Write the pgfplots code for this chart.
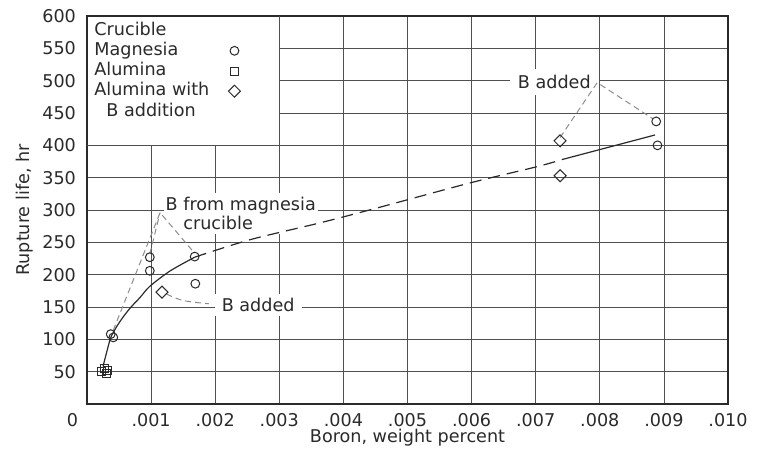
\documentclass[border=0pt]{standalone}
\usepackage{fontspec}
\setmainfont{DejaVu Sans}
\usepackage{pgfplots}
\usepackage{pgfplotstable}
\pgfplotsset{compat=1.18}
\usetikzlibrary{plotmarks}
\definecolor{gridc}{HTML}{505050}
\definecolor{leadc}{HTML}{8C8C8C}
\definecolor{inkc}{HTML}{2A2A2A}

\pgfplotstableread{
x y
0.00037 108
0.00041 103
0.00098 227
0.00098 206
0.00168 228
0.00169 186
0.00888 437
0.00890 400
}\magnesia
\pgfplotstableread{
x y
0.00022 50
0.00027 55
0.00032 52
0.00030 47
}\alumina
\pgfplotstableread{
x y
0.00117 173
0.00738 407
0.00738 353
}\boronadd
\pgfplotstableread{
x y
0.00025 58
0.00032 85
0.00038 105
0.00051 127
0.00067 148
0.00083 165
0.00098 182
0.00130 206
0.00168 227
}\curveA
\pgfplotstableread{
x y
0.00168 227
0.00254 254
0.00363 280
0.00452 303
0.00598 342
0.00702 367
0.00741 378
}\curveB
\pgfplotstableread{
x y
0.00741 378
0.00886 416
}\curveC

\begin{document}
\begin{tikzpicture}[font=\fontsize{8.8}{10}\selectfont]
\useasboundingbox (-43.5pt,-23pt) rectangle (335.5pt,202pt);
\begin{axis}[
  scale only axis, width=320.5pt, height=194pt,
  at={(0,0)}, anchor=south west,
  xmin=0, xmax=0.010, ymin=0, ymax=600,
  xtick={0,0.001,0.002,0.003,0.004,0.005,0.006,0.007,0.008,0.009,0.010},
  xticklabels={\makebox[0pt][r]{0\hspace{4.5pt}},.001,.002,.003,.004,.005,.006,.007,.008,.009,.010},
  ytick={50,100,150,200,250,300,350,400,450,500,550,600},
  scaled x ticks=false,
  /pgf/number format/assume math mode=true,
  major tick length=0pt,
  grid=major, grid style={gridc, line width=0.4pt},
  axis line style={inkc, line width=0.6pt},
  tick label style={font=\fontsize{8.8}{10}\selectfont, text=inkc},
  yticklabel style={xshift=-2pt},
  xticklabel style={yshift=-1pt},
  xlabel={Boron, weight percent}, ylabel={Rupture life, hr},
  label style={text=inkc, font=\fontsize{8.8}{10}\selectfont},
  xlabel style={at={(axis description cs:0.5,-0.0876)}, anchor=center},
  ylabel style={at={(axis description cs:-0.0967,0.5)}, anchor=center},
  legend style={at={(axis cs:0,600)}, anchor=north west, draw=none, fill=none,
    inner xsep=1.5pt, inner ysep=2.5pt, row sep=0.9pt,
    nodes={inner ysep=0.5pt, text height=6.4pt, text depth=1.8pt, text=inkc},
    /tikz/every odd column/.append style={column sep=2pt}},
  legend cell align=left, legend plot pos=right,
]
\addlegendimage{empty legend}\addlegendentry{Crucible}

\fill[white] ([xshift=0.35pt]axis cs:0,400) rectangle ([yshift=-0.35pt]axis cs:0.003,600);
\draw[gridc, line width=0.4pt] (axis cs:0,400) -- (axis cs:0.003,400) -- (axis cs:0.003,600);

\node[fill=white, inner xsep=4pt, inner ysep=3pt, text=inkc] at (axis cs:0.00729,498) {B added};
\node[fill=white, inner xsep=3.5pt, inner ysep=2pt, text=inkc] at (axis cs:0.00267,153) {B added};
\node[fill=white, anchor=west, align=left, inner xsep=1pt, inner ysep=2pt, text=inkc,
  font=\fontsize{8.8}{8.5}\selectfont] at (axis cs:0.00119,295) {B from magnesia\\\phantom{B }crucible};

\addplot[inkc, line width=0.6pt, smooth, forget plot] table {\curveA};
\addplot[inkc, line width=0.6pt, smooth, dash pattern=on 6pt off 3.5pt, forget plot] table {\curveB};
\addplot[inkc, line width=0.6pt, forget plot] table {\curveC};

\addplot[leadc, line width=0.5pt, dash pattern=on 3pt off 2pt, forget plot] coordinates {(0.00041,114) (0.00114,296) (0.00168,233)};
\addplot[leadc, line width=0.5pt, dash pattern=on 3pt off 2pt, forget plot] coordinates {(0.00098,232) (0.00114,296)};
\addplot[leadc, line width=0.5pt, dash pattern=on 3pt off 2pt, smooth, forget plot] coordinates {(0.00124,170) (0.0015,160) (0.0019,155)};
\addplot[leadc, line width=0.5pt, dash pattern=on 3pt off 2pt, forget plot] coordinates {(0.00738,412) (0.00796,497) (0.00883,441)};

\addplot[only marks, mark=o, mark size=2.2pt, inkc, mark options={line width=0.5pt}] table {\magnesia};
\addlegendentry{Magnesia}
\addplot[only marks, mark=square, mark size=2pt, inkc, mark options={line width=0.5pt}] table {\alumina};
\addlegendentry{Alumina}
\addplot[only marks, mark=diamond, mark size=3pt, inkc, mark options={line width=0.5pt, xscale=1.333}] table {\boronadd};
\addlegendentry{Alumina with}
\addlegendimage{empty legend}\addlegendentry{\hspace*{6pt}B addition}
\end{axis}
\end{tikzpicture}
\end{document}
